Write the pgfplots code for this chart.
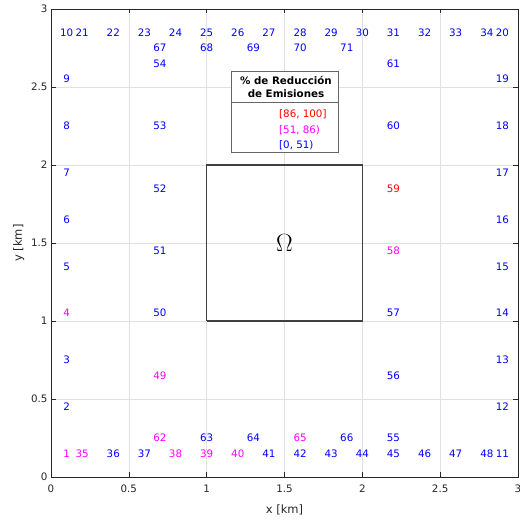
\documentclass[border=0pt]{standalone}
\usepackage{pgfplots}
\pgfplotsset{compat=1.18}
\usepackage{fontspec}
\setmainfont{DejaVu Sans}
\definecolor{axgray}{RGB}{38,38,38}
\definecolor{mblue}{RGB}{0,0,255}
\definecolor{mmag}{RGB}{255,0,255}
\definecolor{mred}{RGB}{255,0,0}
\begin{document}
\begin{tikzpicture}
\begin{axis}[
  name=ax,
  scale only axis,
  width=467pt, height=468pt,
  xmin=0, xmax=3, ymin=0, ymax=3,
  xtick={0,0.5,...,3}, ytick={0,0.5,...,3},
  /pgf/number format/assume math mode=true,
  tick label style={font=\fontsize{10.3}{12}\selectfont, text=axgray},
  xticklabel style={yshift=-4pt},
  label style={font=\fontsize{11.5}{13}\selectfont, text=axgray},
  xlabel={x [km]}, ylabel={y [km]},
  xlabel style={yshift=-6pt},
  ylabel style={yshift=0pt},
  grid=major,
  major grid style={line width=0.5pt, draw=black!12},
  axis line style={draw=axgray, line width=0.6pt},
  tick style={draw=axgray, line width=0.5pt},
  major tick length=4.5pt,
  every node near coord/.append style={anchor=center, font=\fontsize{10.3}{12}\selectfont},
  clip=false,
]
% Omega square
\addplot[draw=black!75, line width=1.2pt] coordinates {(1,1) (2,1) (2,2) (1,2) (1,1)};
\addplot[draw=none, mark=none, point meta=explicit symbolic,
  nodes near coords={\fontsize{24}{26}\selectfont$\Omega$},
  every node near coord/.append style={text=black}]
  coordinates {(1.5,1.5) [O]};
% blue labels
\addplot[draw=none, mark=none, nodes near coords, point meta=explicit symbolic,
  every node near coord/.append style={text=mblue}]
  table[meta=lab] {
x y lab
0.1 0.45 2
0.1 0.75 3
0.1 1.35 5
0.1 1.65 6
0.1 1.95 7
0.1 2.25 8
0.1 2.55 9
0.1 2.85 10
2.9 0.15 11
2.9 0.45 12
2.9 0.75 13
2.9 1.05 14
2.9 1.35 15
2.9 1.65 16
2.9 1.95 17
2.9 2.25 18
2.9 2.55 19
2.9 2.85 20
0.2 2.85 21
0.4 2.85 22
0.6 2.85 23
0.8 2.85 24
1.0 2.85 25
1.2 2.85 26
1.4 2.85 27
1.6 2.85 28
1.8 2.85 29
2.0 2.85 30
2.2 2.85 31
2.4 2.85 32
2.6 2.85 33
2.8 2.85 34
0.4 0.15 36
0.6 0.15 37
1.4 0.15 41
1.6 0.15 42
1.8 0.15 43
2.0 0.15 44
2.2 0.15 45
2.4 0.15 46
2.6 0.15 47
2.8 0.15 48
0.7 1.05 50
0.7 1.45 51
0.7 1.85 52
0.7 2.25 53
0.7 2.65 54
2.2 0.25 55
2.2 0.65 56
2.2 1.05 57
2.2 2.25 60
2.2 2.65 61
1.0 0.25 63
1.3 0.25 64
1.9 0.25 66
0.7 2.75 67
1.0 2.75 68
1.3 2.75 69
1.6 2.75 70
1.9 2.75 71
};
% magenta labels
\addplot[draw=none, mark=none, nodes near coords, point meta=explicit symbolic,
  every node near coord/.append style={text=mmag}]
  table[meta=lab] {
x y lab
0.1 0.15 1
0.1 1.05 4
0.2 0.15 35
0.8 0.15 38
1.0 0.15 39
1.2 0.15 40
0.7 0.65 49
2.2 1.45 58
0.7 0.25 62
1.6 0.25 65
};
% red labels
\addplot[draw=none, mark=none, nodes near coords, point meta=explicit symbolic,
  every node near coord/.append style={text=mred}]
  table[meta=lab] {
x y lab
2.2 1.85 59
};
% legend box
\node[draw=black!60, fill=white, line width=0.5pt, inner sep=0pt,
  minimum width=107pt, minimum height=81pt] (leg) at (rel axis cs:0.5,0.781) {};
\draw[black!60, line width=0.5pt] ([yshift=-32pt]leg.north west) -- ([yshift=-32pt]leg.north east);
\node[font=\fontsize{10.3}{13}\selectfont\bfseries, text=black, align=center, anchor=center]
  at ([xshift=1.5pt, yshift=-16pt]leg.north) {\% de Reducción\\de Emisiones};
\node[font=\fontsize{10.3}{12}\selectfont, text=mred, anchor=west, inner sep=0pt] at ([xshift=-5.5pt, yshift=-3pt]leg.center) {[86, 100]};
\node[font=\fontsize{10.3}{12}\selectfont, text=mmag, anchor=west, inner sep=0pt] at ([xshift=-5.5pt, yshift=-19pt]leg.center) {[51, 86)};
\node[font=\fontsize{10.3}{12}\selectfont, text=mblue, anchor=west, inner sep=0pt] at ([xshift=-5.5pt, yshift=-34pt]leg.center) {[0, 51)};
\end{axis}
\pgfresetboundingbox
\path ([xshift=-51pt, yshift=-43pt]ax.south west) rectangle ++(520pt,520pt);
\end{tikzpicture}
\end{document}
